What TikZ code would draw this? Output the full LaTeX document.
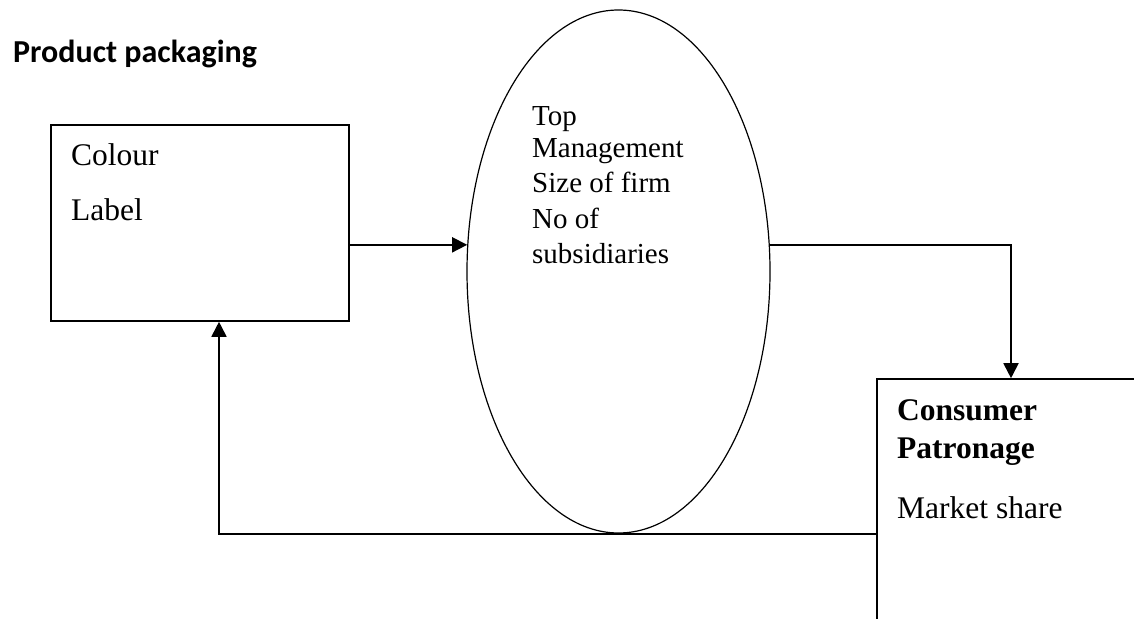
\documentclass[tikz,border=0pt]{standalone}
\usepackage{fontspec}
\setmainfont{Liberation Serif}
\newfontfamily\titlefont{Carlito}
\usetikzlibrary{shapes.geometric,arrows.meta}
\begin{document}
\begin{tikzpicture}[x=1pt,y=-1pt,
  boxstyle/.style={draw,line width=1.6pt,rectangle,inner sep=0pt},
  ovalstyle/.style={draw,line width=1.2pt,ellipse,inner sep=0pt},
  arr/.style={line width=1.8pt,-{Triangle[length=15pt,width=15pt]}},
  bigtxt/.style={anchor=base west,inner sep=0pt,font=\fontsize{31.5}{36}\selectfont},
  midtxt/.style={anchor=base west,inner sep=0pt,font=\fontsize{29}{33}\selectfont},
  boldtxt/.style={anchor=base west,inner sep=0pt,font=\fontsize{31.5}{36}\selectfont\bfseries},
  titletxt/.style={anchor=base west,inner sep=0pt,font=\titlefont\fontsize{32}{38}\selectfont\bfseries}]
\clip (0,0) rectangle (1134,618);
\fill[white] (0,0) rectangle (1134,618);

% title
\node[titletxt] (title) at (13,63) {Product packaging};

% box 1
\node[boxstyle,minimum width=298pt,minimum height=196pt] (box1) at (200,223) {};
\node[bigtxt] (colour) at (71,165) {Colour};
\node[bigtxt] (label) at (71,220) {Label};

% ellipse
\node[ovalstyle,minimum width=303pt,minimum height=523pt] (ell) at (618.5,271.5) {};
\node[midtxt] (t1) at (532,125) {Top};
\node[midtxt] (t2) at (532,157) {Management};
\node[midtxt] (t3) at (532,192) {Size of firm};
\node[midtxt] (t4) at (532,228) {No of};
\node[midtxt] (t5) at (532,263) {subsidiaries};

% box 2 (runs off the page)
\node[boxstyle,minimum width=268pt,minimum height=321pt] (box2) at (1011,539.5) {};
\node[boldtxt] (c1) at (897,420) {Consumer};
\node[boldtxt] (c2) at (897,458) {Patronage};
\node[bigtxt] (c3) at (897,518) {Market share};

% connectors
\coordinate (fb) at (219,0);
\draw[arr] (box1.east |- ell.170) -- (ell.170);
\draw[arr] (ell.10) -| (box2.north);
\draw[arr] (box2.west |- ell.south) -| (box1.south -| fb);
\end{tikzpicture}
\end{document}
